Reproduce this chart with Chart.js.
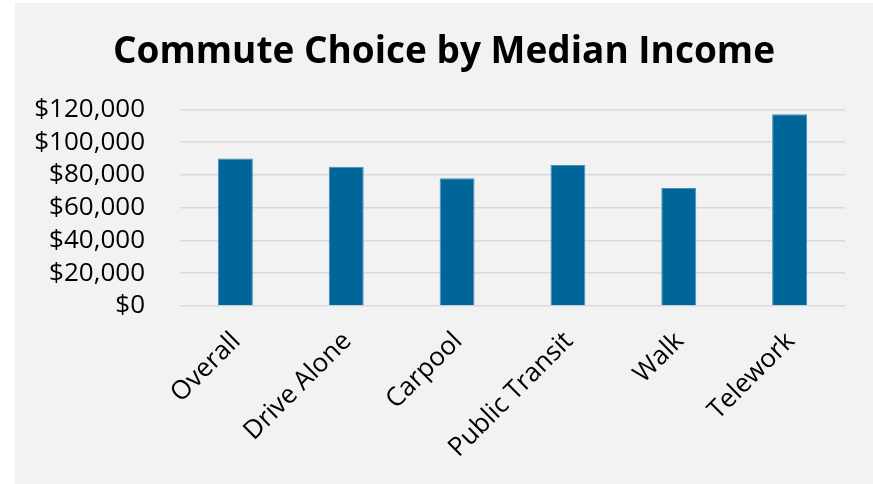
<!DOCTYPE html>
<html lang="en">
<head>
    <meta charset="UTF-8">
    <title>Commute Choice by Median Income</title>
    <script src="https://cdn.jsdelivr.net/npm/chart.js"></script>
    <style>
        body {
            margin: 0;
            padding: 0;
            background-color: #ffffff;
        }
        .chart-box {
            position: absolute;
            left: 15px;
            top: 3px;
            width: 858px;
            height: 481px;
            background-color: #f2f2f2;
        }
    </style>
</head>
<body>
    <div class="chart-box">
        <canvas id="commuteChart"></canvas>
    </div>
    <script>
        // Datos del grafico
        const categorias = ["Overall", "Drive Alone", "Carpool", "Public Transit", "Walk", "Telework"];
        const ingresoMediano = [90000, 85000, 78000, 86000, 72000, 117000];
        const ticksY = [0, 20000, 40000, 60000, 80000, 100000, 120000];

        const fuente = "'Open Sans', 'Noto Sans', sans-serif";

        const ctx = document.getElementById('commuteChart').getContext('2d');
        const commuteChart = new Chart(ctx, {
            type: 'bar',
            data: {
                labels: categorias,
                datasets: [{
                    label: 'Median Income',
                    data: ingresoMediano,
                    backgroundColor: '#006699',
                    borderColor: '#4a8fba',
                    borderWidth: 1,
                    barPercentage: 0.315,
                    categoryPercentage: 1
                }]
            },
            options: {
                responsive: true,
                maintainAspectRatio: false,
                animation: false,
                layout: {
                    padding: 0
                },
                plugins: {
                    legend: { display: false },
                    tooltip: { enabled: false },
                    title: {
                        display: true,
                        text: 'Commute Choice by Median Income',
                        color: '#000000',
                        font: { family: fuente, size: 37, weight: 'bold' },
                        padding: { top: 27, bottom: 35 }
                    }
                },
                scales: {
                    x: {
                        grid: { display: false, drawTicks: false },
                        border: { display: false },
                        ticks: {
                            color: '#000000',
                            font: { family: fuente, size: 26 },
                            minRotation: 45,
                            maxRotation: 45,
                            autoSkip: false,
                            padding: 20,
                            labelOffset: 1
                        },
                        afterFit: function (scale) {
                            scale.height = 178;
                        }
                    },
                    y: {
                        min: 0,
                        max: 120000,
                        grid: { color: '#d9d9d9', lineWidth: 1.5, drawTicks: false },
                        border: { display: false },
                        afterBuildTicks: function (scale) {
                            scale.ticks = ticksY.map(v => ({ value: v }));
                        },
                        ticks: {
                            color: '#000000',
                            font: { family: fuente, size: 26 },
                            autoSkip: false,
                            padding: 35,
                            callback: function (value) {
                                return '$' + value.toLocaleString('en-US');
                            }
                        },
                        afterFit: function (scale) {
                            scale.width = 165;
                        }
                    },
                    // eje vacio a la derecha, solo reserva espacio
                    margen: {
                        position: 'right',
                        grid: { display: false, drawTicks: false },
                        border: { display: false },
                        ticks: { display: false },
                        afterFit: function (scale) {
                            scale.width = 28;
                        }
                    }
                }
            }
        });
    </script>
</body>
</html>
